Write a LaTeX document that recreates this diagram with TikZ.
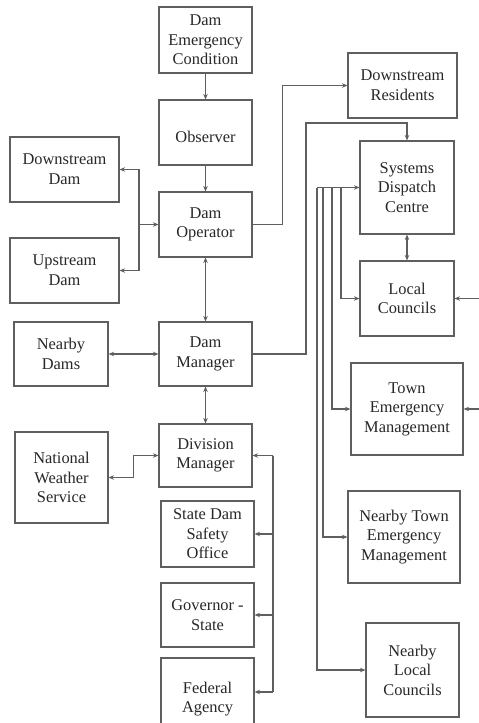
\documentclass[tikz,border=0pt]{standalone}
\usepackage{fontspec}
\setmainfont{Liberation Serif}
\usetikzlibrary{arrows.meta}
\definecolor{ln}{RGB}{95,95,95}
\definecolor{tx}{RGB}{40,40,40}
\tikzset{
  box/.style={draw=ln, line width=1.1pt, fill=white, align=center, text=tx,
    inner sep=0pt, font=\fontsize{16.4}{19.6}\selectfont},
  conn/.style={draw=ln, line width=1.1pt},
  arr/.style={conn, -{Stealth[length=5.5pt,width=4.5pt]}},
  darr/.style={conn, {Stealth[length=5.5pt,width=4.5pt]}-{Stealth[length=5.5pt,width=4.5pt]}}
}
\begin{document}
\begin{tikzpicture}[x=1pt,y=-1pt]
\useasboundingbox (0,0) rectangle (479,723);
\clip (0,0) rectangle (479,723);
\fill[white] (0,0) rectangle (479,723);
% nodes
\node[box, minimum width=93pt, minimum height=66pt] (dec) at (205.5,40) {Dam\\Emergency\\Condition};
\node[box, minimum width=93pt, minimum height=65pt] (obs) at (205.5,132.5) {~\\Observer};
\node[box, minimum width=93pt, minimum height=65pt] (op) at (205.5,224.5) {Dam\\Operator};
\node[box, minimum width=109pt, minimum height=65pt] (dsd) at (64.5,169.5) {Downstream\\Dam};
\node[box, minimum width=109pt, minimum height=65pt] (usd) at (64.5,270.5) {Upstream\\Dam};
\node[box, minimum width=109pt, minimum height=65pt] (res) at (402.5,85.5) {Downstream\\Residents};
\node[box, minimum width=94pt, minimum height=93pt] (sdc) at (407,187.5) {Systems\\Dispatch\\Centre};
\node[box, minimum width=94pt, minimum height=75pt] (lc) at (407,298.5) {Local\\Councils};
\node[box, minimum width=112pt, minimum height=92pt] (tem) at (407,409) {Town\\Emergency\\Management};
\node[box, minimum width=112pt, minimum height=92pt] (ntem) at (404,537) {Nearby Town\\Emergency\\Management};
\node[box, minimum width=93pt, minimum height=94pt] (nlc) at (412.5,670) {Nearby\\Local\\Councils};
\node[box, minimum width=93pt, minimum height=64pt] (mgr) at (205.5,354) {Dam\\Manager};
\node[box, minimum width=94pt, minimum height=64pt] (nd) at (61,354) {Nearby\\Dams};
\node[box, minimum width=93pt, minimum height=63pt] (div) at (205.5,455.5) {Division\\Manager};
\node[box, minimum width=93pt, minimum height=91pt] (nws) at (61.5,477.5) {National\\Weather\\Service};
\node[box, minimum width=93pt, minimum height=66pt] (sdso) at (207.5,534) {State Dam\\Safety\\Office};
\node[box, minimum width=93pt, minimum height=64pt] (gov) at (207.5,615) {Governor -\\State};
\node[box, minimum width=93pt, minimum height=82pt] (fed) at (207.5,699) {Federal\\Agency};
% connectors
\draw[arr] (dec) -- (obs);
\draw[arr] (obs) -- (op);
\coordinate (bk) at (139,224.5);
\draw[arr] (bk) |- (dsd.east);
\draw[arr] (bk) |- (usd.east);
\draw[arr] (bk) -- (op.west);
\draw[darr] (op) -- (mgr);
\draw[arr] (op.east) -- ++(30,0) |- (res.west);
\coordinate (m1) at (306,123);
\draw[arr] (mgr.east) -| (m1) -| (sdc.north);
\coordinate (b0) at (317,187.5);
\coordinate (b1) at (341,187.5);
\coordinate (b2) at (332,187.5);
\coordinate (b3) at (323,187.5);
\draw[arr] (b0) -- (sdc.west);
\draw[arr] (b1) |- (lc.west);
\draw[arr] (b2) |- (tem.west);
\draw[arr] (b3) |- (ntem.west);
\draw[arr] (b0) |- (nlc.west);
\draw[darr] (sdc) -- (lc);
\coordinate (r1) at (480,298.5);
\coordinate (r2) at (480,409);
\draw[arr] (r1) -- (lc.east);
\draw[arr] (r2) -- (tem.east);
\draw[darr] (nd) -- (mgr);
\draw[darr] (mgr) -- (div);
\draw[darr] (nws.east) -- ++(25,0) |- (div.west);
\coordinate (v) at (273,455.5);
\coordinate (vb) at (273,692);
\draw[arr] (v) -- (div.east);
\draw[conn] (v) -- (vb);
\draw[arr] (sdso.east -| v) -- (sdso.east);
\draw[arr] (gov.east -| v) -- (gov.east);
\draw[arr] (vb) -- (vb -| fed.east);
\end{tikzpicture}
\end{document}
